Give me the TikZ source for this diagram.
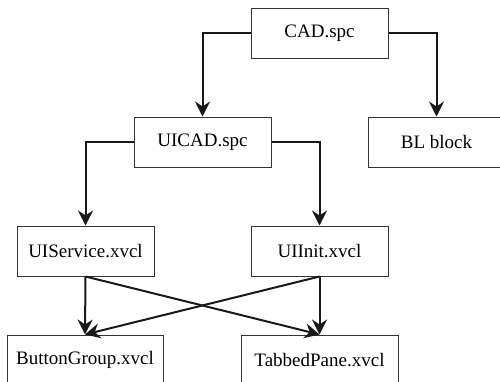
\documentclass[tikz,border=0pt]{standalone}
\usepackage{fontspec}
\setmainfont{Liberation Serif}
\usetikzlibrary{arrows.meta}
\begin{document}
\begin{tikzpicture}[x=1pt,y=-1pt,
  box/.style={draw=black!80,line width=1pt,minimum height=50pt,inner sep=0pt,font=\fontsize{19}{23}\selectfont},
  conn/.style={line width=2pt,black!90,-{Stealth[length=15pt,width=15pt,inset=5pt]}}]
\useasboundingbox (0,0) rectangle (500,381);
\clip (0,0) rectangle (500,381);
\node[box,minimum width=137pt] (cad) at (319.5,33) {CAD.spc};
\node[box,minimum width=137pt] (uicad) at (202.5,142) {UICAD.spc};
\node[box,minimum width=137pt] (bl) at (436.5,142) {BL block};
\node[box,minimum width=137pt] (uis) at (85.5,251) {UIService.xvcl};
\node[box,minimum width=137pt] (uii) at (319.5,251) {UIInit.xvcl};
\node[box,minimum width=156pt] (bg) at (85,360) {ButtonGroup.xvcl};
\node[box,minimum width=157pt] (tp) at (319.5,360) {TabbedPane.xvcl};
\draw[conn] (cad.west) -| (uicad.north);
\draw[conn] (cad.east) -| (bl.north);
\draw[conn] (uicad.west) -| (uis.north);
\draw[conn] (uicad.east) -| (uii.north);
\draw[conn] (uis.south) -- (bg.north);
\draw[conn] (uis.south) -- (tp.north);
\draw[conn] (uii.south) -- (tp.north);
\draw[conn] (uii.south) -- (bg.north);
\end{tikzpicture}
\end{document}
